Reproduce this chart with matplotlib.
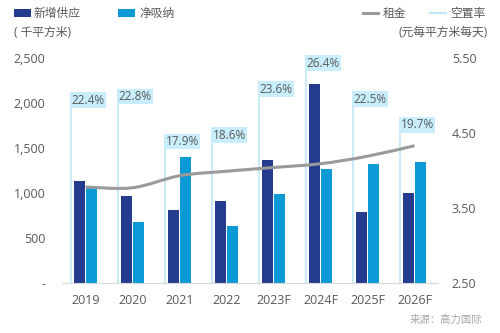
import numpy as np
import matplotlib
matplotlib.use('Agg')
import matplotlib.pyplot as plt
from matplotlib.path import Path
from matplotlib.patches import PathPatch, Rectangle
from matplotlib.lines import Line2D
from matplotlib.ticker import FuncFormatter

plt.rcParams['font.family'] = ['Open Sans', 'Noto Sans CJK SC', 'DejaVu Sans']

# ---------------------------------------------------------------
# DATA
# ---------------------------------------------------------------
years = ['2019', '2020', '2021', '2022', '2023F', '2024F', '2025F', '2026F']
supply = [1130, 965, 810, 915, 1365, 2215, 785, 995]          # 新增供应 (千平方米)
absorption = [1065, 680, 1395, 635, 990, 1265, 1320, 1340]   # 净吸纳 (千平方米)
rent = [3.78, 3.77, 3.93, 3.99, 4.04, 4.09, 4.19, 4.33]      # 租金 (元每平方米每天)
vacancy = [22.4, 22.8, 17.9, 18.6, 23.6, 26.4, 22.5, 19.7]   # 空置率 (%)

# colours
c_supply = '#243B8E'
c_absorb = '#0B9AD6'
c_rent = '#9A9A9A'
c_vac = '#BEE8F7'
c_box = '#C8EEFB'
c_text = '#595959'

fig = plt.figure(figsize=(5, 3.33), dpi=100)
ax = fig.add_axes([0.124, 0.150, 0.752, 0.676])
x = np.arange(len(years))
w = 0.234

ax.bar(x - 0.138, supply, w, color=c_supply, zorder=2)
ax.bar(x + 0.138, absorption, w, color=c_absorb, zorder=2)
ax.set_xlim(-0.5, len(years) - 0.5)
ax.set_ylim(0, 2500)
ax.set_yticks(np.arange(0, 2501, 500))
ax.yaxis.set_major_formatter(FuncFormatter(lambda v, p: '-' if v == 0 else f'{int(v):,}'))
ax.set_xticks(x)
ax.set_xticklabels(years)
ax.tick_params(length=0, labelsize=9, colors=c_text)
ax.tick_params(axis='y', pad=12)
ax.tick_params(axis='x', pad=8)
for s in ['top', 'right', 'left']:
    ax.spines[s].set_visible(False)
ax.spines['bottom'].set_color('#D9D9D9')
ax.set_zorder(3)
ax.patch.set_visible(False)

# vacancy rate: drop lines with boxed labels on a hidden scale
axv = ax.twinx()
axv.set_ylim(3.2, 27.7)
axv.axis('off')
xv = x - 0.30
axv.vlines(xv, 3.2, vacancy, color=c_vac, lw=1.2, zorder=1)
for xi, v in zip(xv, vacancy):
    axv.text(xi, v, f'{v:.1f}%', fontsize=8.5, color=c_text, ha='left', va='bottom',
             bbox=dict(boxstyle='square,pad=0.12', fc=c_box, ec='none'), zorder=5)
axv.set_zorder(1)

# rent on right axis, drawn as a smooth curve
axr = ax.twinx()
axr.set_ylim(2.5, 5.5)
axr.set_yticks([2.5, 3.5, 4.5, 5.5])
axr.yaxis.set_major_formatter(FuncFormatter(lambda v, p: f'{v:.2f}'))
axr.tick_params(length=0, labelsize=9, colors=c_text, pad=10)
for s in axr.spines.values():
    s.set_visible(False)
axr.set_zorder(4)
axr.patch.set_visible(False)

pts = np.column_stack([x, rent]).astype(float)
verts = [pts[0]]
codes = [Path.MOVETO]
for i in range(len(pts) - 1):
    p0 = pts[max(i - 1, 0)]
    p1 = pts[i]
    p2 = pts[i + 1]
    p3 = pts[min(i + 2, len(pts) - 1)]
    verts += [p1 + (p2 - p0) / 6, p2 - (p3 - p1) / 6, p2]
    codes += [Path.CURVE4] * 3
axr.add_patch(PathPatch(Path(verts, codes), fc='none', ec=c_rent, lw=2.2, zorder=3))

# legend and unit labels
fig.patches.append(Rectangle((14 / 500, 1 - 17 / 333), 17 / 500, 8 / 333, transform=fig.transFigure,
                             fc=c_supply, ec='none'))
fig.text(34 / 500, 1 - 13 / 333, '新增供应', fontsize=8.5, color=c_text, va='center')
fig.patches.append(Rectangle((118 / 500, 1 - 17 / 333), 17 / 500, 8 / 333, transform=fig.transFigure,
                             fc=c_absorb, ec='none'))
fig.text(139 / 500, 1 - 13 / 333, '净吸纳', fontsize=8.5, color=c_text, va='center')
fig.lines.append(Line2D([363 / 500, 378 / 500], [1 - 13 / 333] * 2, transform=fig.transFigure,
                        color=c_rent, lw=2.2))
fig.text(383 / 500, 1 - 13 / 333, '租金', fontsize=8.5, color=c_text, va='center')
fig.lines.append(Line2D([430 / 500, 446 / 500], [1 - 13 / 333] * 2, transform=fig.transFigure,
                        color=c_vac, lw=1.5))
fig.text(450 / 500, 1 - 13 / 333, '空置率', fontsize=8.5, color=c_text, va='center')

fig.text(14 / 500, 1 - 33 / 333, '( 千平方米)', fontsize=8.5, color=c_text, va='center')
fig.text(488 / 500, 1 - 33 / 333, '(元每平方米每天)', fontsize=8.5, color=c_text, va='center', ha='right')
fig.text(482 / 500, 1 - 320 / 333, '来源：高力国际', fontsize=7.5, color='#A6A6A6', va='center', ha='right')

fig.savefig('out.png', dpi=100)
